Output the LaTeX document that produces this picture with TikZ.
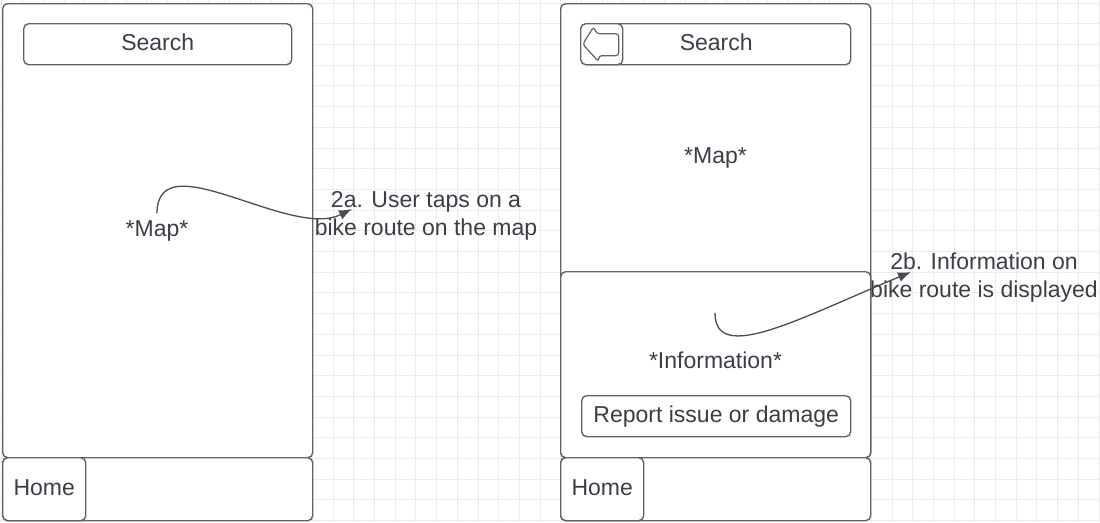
\documentclass[tikz,border=0pt]{standalone}
\usepackage{fontspec}
\setmainfont{Liberation Sans}
\usetikzlibrary{arrows.meta}
\definecolor{gridcol}{RGB}{236,236,236}
\definecolor{framecol}{RGB}{96,100,106}
\definecolor{linkcol}{RGB}{72,77,85}
\definecolor{labelcol}{RGB}{58,63,71}
\newcommand{\uifont}{\fontsize{23}{28}\selectfont}

\begin{document}
\begin{tikzpicture}[x=1pt, y=-1pt,
	>={Latex[length=13pt,width=10pt]},
	gridline/.style={gridcol, line width=0.8pt},
	uibox/.style={draw=framecol, fill=white, line width=1.4pt, rounded corners=5pt,
			anchor=north west, inner sep=0pt, text=labelcol, font=\uifont,
			text height=16.5pt, text depth=4.5pt},
	uitext/.style={text=labelcol, font=\uifont, inner sep=0pt, anchor=base},
	link/.style={linkcol, line width=1.3pt, ->},
]

	% --- Parameters ---
	\def\cell{20.7}       % background grid pitch
	\def\scrW{310}        % phone screen width
	\def\barH{63}         % bottom bar height

	\useasboundingbox (0,0) rectangle (1100,522);

	% =============================================
	%  BACKGROUND GRID
	% =============================================

	\foreach \k in {0,...,53} {
			\draw[gridline] (1.8+\k*\cell, 0) -- (1.8+\k*\cell, 522);
		}
	\foreach \k in {0,...,25} {
			\draw[gridline] (0, 3+\k*\cell) -- (1100, 3+\k*\cell);
		}

	% =============================================
	%  SCREEN 1: map
	% =============================================

	\node[uibox, minimum width=\scrW, minimum height=454] (scrL) at (2,3) {};
	\node[uibox, minimum width=\scrW, minimum height=\barH] (barL) at (2,457) {};
	\node[uibox, minimum width=83, minimum height=\barH] (homeL) at (2,457) {Home};
	\node[uibox, minimum width=268, minimum height=41] (searchL) at (23,23) {Search};

	\node[uitext] (mapL) at (157,236) {*Map*};

	% Note 2a (base = last line)
	\node[uitext, align=center] (noteA) at (426,235)
	{2a. User taps on a\\bike route on the map};

	\coordinate (tipA) at (352,209);
	\draw[link] ([yshift=6.5pt]mapL.north) .. controls +(0,-73) and +(-62,31) .. (tipA);

	% =============================================
	%  SCREEN 2: map + route information
	% =============================================

	\node[uibox, minimum width=\scrW, minimum height=454] (scrR) at (560,3) {};
	\node[uibox, minimum width=\scrW, minimum height=186] (infoR) at (560,271) {};
	\node[uibox, minimum width=\scrW, minimum height=\barH] (barR) at (560,457) {};
	\node[uibox, minimum width=83, minimum height=\barH] (homeR) at (560,457) {Home};
	\node[uibox, minimum width=269, minimum height=41] (searchR) at (581,23) {Search};
	\node[uibox, minimum width=42, minimum height=41] (backR) at (580,23) {};
	\node[uibox, minimum width=269, minimum height=41] (reportR) at (581,395)
	{Report issue or damage};

	% Back arrow icon
	\draw[framecol, line width=1.2pt, rounded corners=3pt]
	(backR.center) ++(-19,0) -- ++(11,-17.5) -- ++(3,7) -- ++(22,0)
	-- ++(0,22) -- ++(-20,0) -- ++(0,6) -- cycle;

	\node[uitext] (mapR) at (715.5,163) {*Map*};
	\node[uitext] (infoText) at (715.5,368) {*Information*};

	% Note 2b (base = last line)
	\node[uitext, align=center] (noteB) at (984,297)
	{2b. Information on\\bike route is displayed};

	\coordinate (pickB) at (715,313);
	\coordinate (tipB) at (911,272);
	\draw[link] (pickB) .. controls +(0,52) and +(-111,46) .. (tipB);

\end{tikzpicture}
\end{document}
